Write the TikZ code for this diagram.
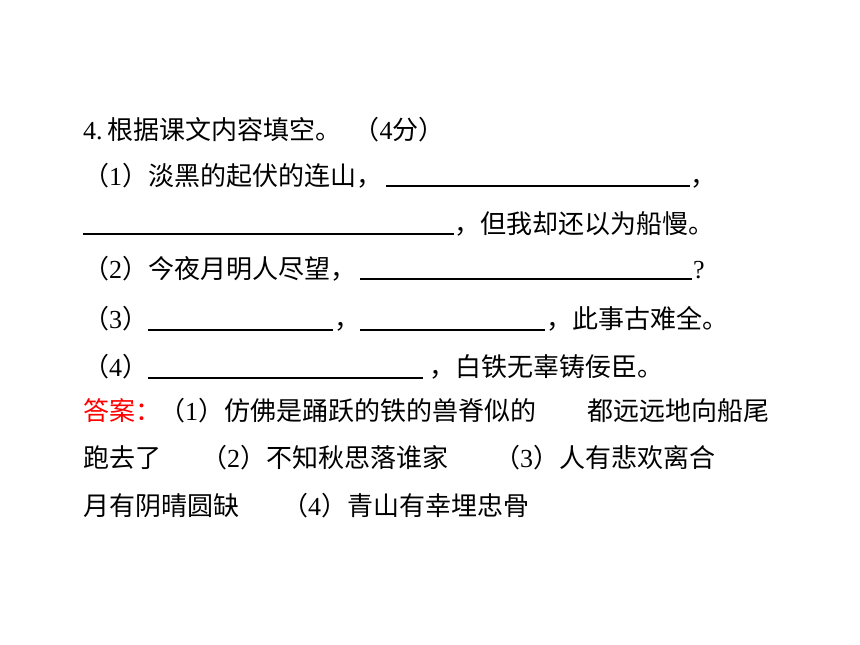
\documentclass[tikz,border=0pt]{standalone}
\usepackage{fontspec}
\setmainfont{Liberation Serif}
\newfontfamily\cjk{Noto Sans CJK SC}
\newcommand{\nm}[1]{\textrm{#1}}

\begin{document}
\begin{tikzpicture}[x=1pt, y=-1pt,
	txt/.style={anchor=base west, inner sep=0pt, font=\cjk\fontsize{26}{30}\selectfont},
	blank/.style={line width=1.2pt}]
	\definecolor{ansred}{RGB}{255, 0, 0}
	\fill[white] (0, 0) rectangle (860, 645);
	\useasboundingbox (0, 0) rectangle (860, 645);

	% question
	\node[txt] (title) at (83, 139) {\nm{4.}\hspace{5pt}根据课文内容填空。\hspace{12pt}（\nm{4}分）};

	% lines with blanks
	\node[txt] (q1) at (83, 185) {（\nm{1}）淡黑的起伏的连山，};
	\node[txt] (q1c) at (690, 185) {，};
	\node[txt] (q1d) at (454, 233) {，但我却还以为船慢。};
	\node[txt] (q2) at (83, 278) {（\nm{2}）今夜月明人尽望，};
	\node[txt] (q2c) at (693, 278) {\nm{?}};
	\node[txt] (q3) at (83, 328) {（\nm{3}）};
	\node[txt] (q3c) at (334, 328) {，};
	\node[txt] (q3d) at (546, 328) {，此事古难全。};
	\node[txt] (q4) at (83, 376) {（\nm{4}）};
	\node[txt] (q4d) at (429, 376) {，白铁无辜铸佞臣。};
	\foreach \xa/\xb/\y in {386/690/186, 83/454/234, 360/692/279, 148/333/330, 360/545/330, 148/423/378}
		\draw[blank] (\xa, \y) -- (\xb, \y);

	% answer
	\node[txt, text=ansred] (ans) at (83, 420) {答案：};
	\node[txt] (a1) at (159, 420) {（\nm{1}）仿佛是踊跃的铁的兽脊似的};
	\node[txt] (a1b) at (587, 420) {都远远地向船尾};
	\node[txt] (a1c) at (83, 467) {跑去了};
	\node[txt] (a2) at (201, 467) {（\nm{2}）不知秋思落谁家};
	\node[txt] (a3) at (494, 467) {（\nm{3}）人有悲欢离合};
	\node[txt] (a3b) at (83, 515) {月有阴晴圆缺};
	\node[txt] (a4) at (282, 515) {（\nm{4}）青山有幸埋忠骨};
\end{tikzpicture}
\end{document}
